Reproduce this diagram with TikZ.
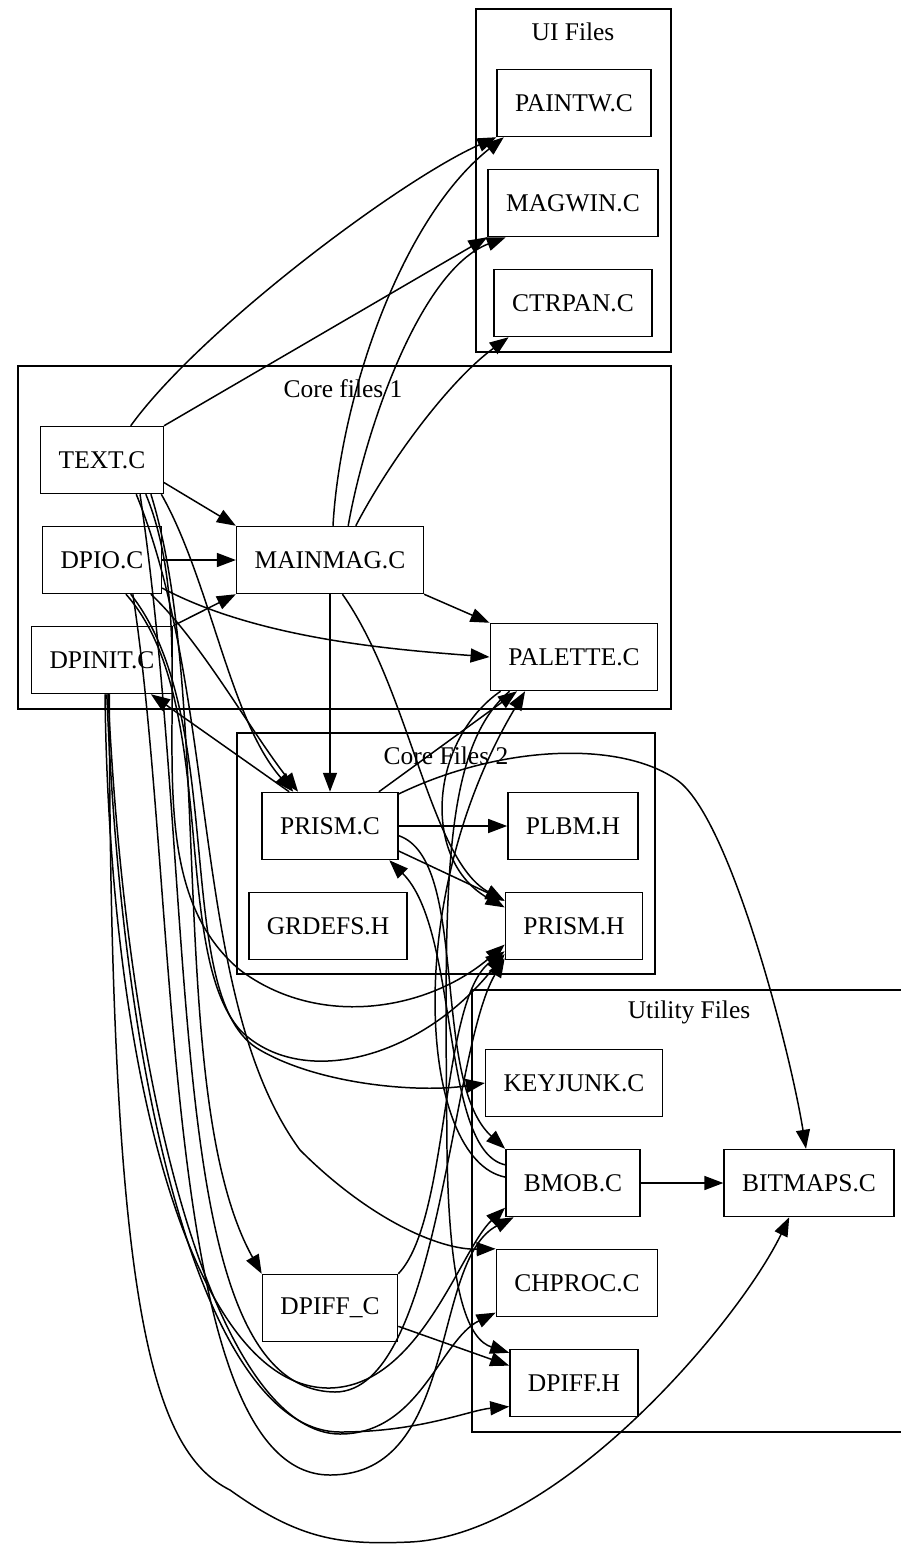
\documentclass[tikz,border=0pt]{standalone}
\usepackage{fontspec}
\setmainfont{Liberation Serif}
\usetikzlibrary{arrows.meta}
\tikzset{
  file/.style    ={rectangle,draw,line width=0.85pt,inner xsep=0.36cm,minimum height=1.34cm,font=\fontsize{14.5}{17}\selectfont},
  grp/.style     ={draw,line width=0.85pt},
  grplabel/.style={inner sep=0pt,font=\fontsize{14.5}{17}\selectfont},
  dep/.style     ={-{Triangle[length=0.38cm,width=0.28cm]},line width=0.85pt},
}
\begin{document}
\begin{tikzpicture}[x=0.02cm,y=-0.02cm]
  \useasboundingbox (0,0) rectangle (900,1562);
  % clusters
  \draw[grp] (476,9) rectangle (671,352);
  \node[grplabel] (uilab) at (573,32) {UI Files};
  \draw[grp] (18,366) rectangle (671,709);
  \node[grplabel] (c1lab) at (343,389) {Core files 1};
  \draw[grp] (237,733) rectangle (655,974);
  \node[grplabel] (c2lab) at (446,756) {Core Files 2};
  \draw[grp] (472,990) rectangle (920,1432);
  \node[grplabel] (utlab) at (689,1012) {Utility Files};

  % files
  \node[file] (paintw)  at (574,103)  {PAINTW.C};
  \node[file] (magwin)  at (573,203)  {MAGWIN.C};
  \node[file] (ctrpan)  at (573,303)  {CTRPAN.C};
  \node[file] (text)    at (102,460)  {TEXT.C};
  \node[file] (dpio)    at (102,560)  {DPIO.C};
  \node[file] (mainmag) at (330,560)  {MAINMAG.C};
  \node[file] (dpinit)  at (102,660)  {DPINIT.C};
  \node[file] (palette) at (574,657)  {PALETTE.C};
  \node[file] (prismc)  at (330,826)  {PRISM.C};
  \node[file] (plbm)    at (573,826)  {PLBM.H};
  \node[file] (grdefs)  at (328,926)  {GRDEFS.H};
  \node[file] (prismh)  at (574,926)  {PRISM.H};
  \node[file] (keyjunk) at (574,1083) {KEYJUNK.C};
  \node[file] (bmob)    at (573,1183) {BMOB.C};
  \node[file] (bitmaps) at (809,1183) {BITMAPS.C};
  \node[file] (chproc)  at (577,1283) {CHPROC.C};
  \node[file] (dpiffc)  at (330,1308) {DPIFF\_C};
  \node[file] (dpiffh)  at (574,1383) {DPIFF.H};

  % upper part
  \draw[dep] (text.50) .. controls (200,330) and (400,180) .. (paintw.south west);
  \draw[dep] (text.north east) -- (magwin.south west);
  \draw[dep] (text.-20) -- (mainmag.north west);
  \draw[dep] (dpio) -- (mainmag);
  \draw[dep] (dpinit.north east) -- (mainmag.south west);
  \draw[dep] (dpio.-25) .. controls (260,640) and (400,650) .. (palette.west);
  \draw[dep] (mainmag.south east) -- (palette.north west);
  \draw[dep] (mainmag.south) -- (prismc.north);
  \draw[dep] (mainmag.85) .. controls (340,400) and (400,220) .. (paintw.-154);
  \draw[dep] (mainmag.62) .. controls (365,430) and (420,270) .. (magwin.-153);
  \draw[dep] (mainmag.53) .. controls (390,460) and (450,380) .. (ctrpan.-152);
  \draw[dep] (mainmag.-70) .. controls (410,690) and (430,860) .. (prismh.160);
  \draw[dep] (text.-30) .. controls (210,580) and (230,720) .. (prismc.137);
  \draw[dep] (dpio.-35) .. controls (200,640) and (250,730) .. (prismc.133);
  \draw[dep] (prismc.140) -- (dpinit.-35);

  % core files 2
  \draw[dep] (prismc) -- (plbm);
  \draw[dep] (prismc.-20) -- (prismh.160);
  \draw[dep] (prismc.35) -- (palette.-149);
  \draw[dep] (prismc.25) .. controls (500,745) and (620,740) .. (677,780)
                         .. controls (730,817) and (790,1050) .. (bitmaps.95);
  \draw[dep] (prismc.-8) .. controls (470,860) and (430,1080) .. (bmob.north west);
  \draw[dep] (palette.-155) .. controls (430,740) and (420,860) .. (prismh.165);
  \draw[dep] (palette.-152) .. controls (440,750) and (445,900) .. (447,1150)
                            .. controls (449,1300) and (470,1340) .. (dpiffh.155);

  % utility files
  \draw[dep] (bmob) -- (bitmaps);
  \draw[dep] (bmob.165) .. controls (440,1150) and (460,930) .. (prismc.-30);
  \draw[dep] (bmob.175) .. controls (420,1160) and (400,900) .. (palette.-145);
  \draw[dep] (dpiffc.north east) .. controls (450,1220) and (440,1000) .. (prismh.-160);
  \draw[dep] (dpiffc.-15) -- (dpiffh.165);
  \draw[dep] (text.-35) .. controls (215,700) and (165,1100) .. (dpiffc.north west);
  \draw[dep] (dpio.-50) .. controls (230,720) and (170,1000) .. (260,1050)
                        .. controls (320,1085) and (420,1093) .. (keyjunk.west);
  \draw[dep] (text.-45) .. controls (220,700) and (190,1000) .. (300,1150)
                        .. controls (370,1220) and (440,1250) .. (chproc.north west);
  \draw[dep] (text.-38) .. controls (210,650) and (120,870) .. (240,970)
                        .. controls (320,1030) and (430,1010) .. (prismh.-165);
  \draw[dep] (dpio.-55) .. controls (220,700) and (170,950) .. (240,1030)
                        .. controls (300,1090) and (420,1060) .. (prismh.-158);

  % long loops below
  \draw[dep] (dpinit.-85) .. controls (110,1100) and (200,1390) .. (330,1388)
                          .. controls (420,1386) and (460,1250) .. (bmob.-160);
  \draw[dep] (text.-42) .. controls (200,900) and (160,1390) .. (335,1392)
                        .. controls (440,1392) and (450,1050) .. (prismh.-155);
  \draw[dep] (dpinit.-82) .. controls (125,1150) and (220,1432) .. (340,1432)
                          .. controls (420,1432) and (470,1410) .. (dpiffh.-160);
  \draw[dep] (dpinit.-80) .. controls (130,1150) and (230,1434) .. (340,1434)
                          .. controls (420,1434) and (440,1340) .. (chproc.-160);
  \draw[dep] (dpio.-48) .. controls (180,900) and (160,1475) .. (330,1475)
                        .. controls (460,1475) and (430,1260) .. (bmob.-150);
  \draw[dep] (dpinit.-78) .. controls (110,1300) and (150,1450) .. (230,1490)
                          .. controls (300,1540) and (340,1545) .. (410,1542)
                          .. controls (560,1535) and (740,1320) .. (bitmaps.-120);
\end{tikzpicture}
\end{document}
